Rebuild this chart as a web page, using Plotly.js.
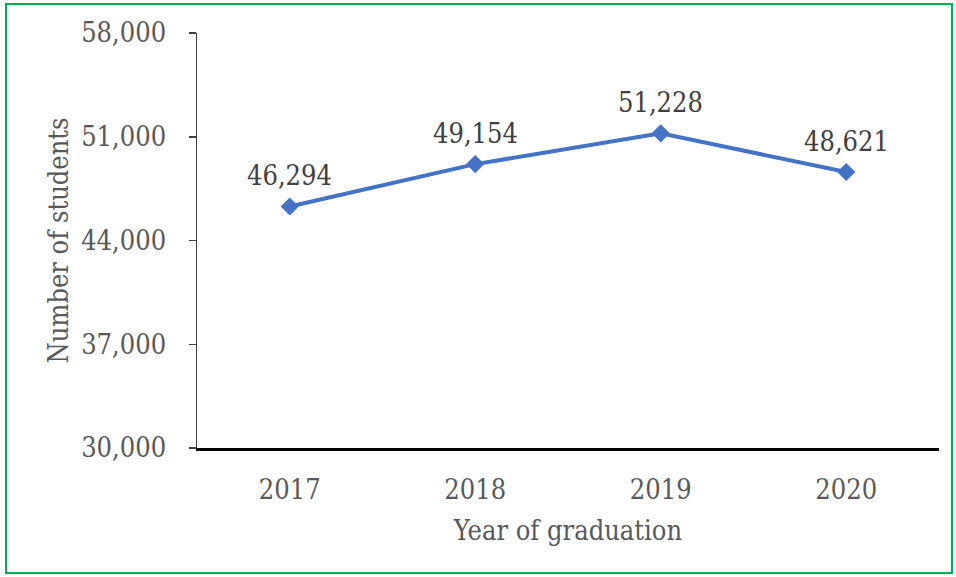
<!DOCTYPE html>
<html>
<head>
<meta charset="utf-8">
<script src="https://cdn.plot.ly/plotly-3.0.1.min.js"></script>
<style>
html,body{margin:0;padding:0;background:#fff;}
#frame{position:absolute;left:5px;top:3px;width:944px;height:567px;border:2px solid #00B050;}
#chart{position:absolute;left:0;top:0;width:956px;height:577px;}
</style>
</head>
<body>
<div id="frame"></div>
<div id="chart"></div>
<script>
const years = ['2017', '2018', '2019', '2020'];
const students = [46294, 49154, 51228, 48621];
const yTicks = [30000, 37000, 44000, 51000, 58000];

const font = 'DejaVu Serif Condensed, Liberation Serif, serif';
const grey = '#595959';

const trace = {
  type: 'scatter',
  mode: 'lines+markers',
  x: years,
  y: students,
  line: {color: '#4472C4', width: 4},
  marker: {symbol: 'diamond', size: 14, color: '#4472C4'},
  cliponaxis: false,
  hoverinfo: 'skip'
};

// data labels: category index i on the category axis
const labels = years.map((yr, i) => ({
  xref: 'x', yref: 'y',
  x: i, y: students[i],
  text: students[i].toLocaleString('en-US'),
  showarrow: false,
  yshift: 31,
  font: {family: font, size: 27, color: '#404040'}
}));

const layout = {
  width: 956, height: 577,
  margin: {l: 197, r: 17, t: 33, b: 129},
  paper_bgcolor: 'rgba(0,0,0,0)',
  plot_bgcolor: 'rgba(0,0,0,0)',
  showlegend: false,
  annotations: labels,
  font: {family: font, size: 27, color: grey},
  xaxis: {
    type: 'category',
    range: [-0.5, 3.5],
    showgrid: false,
    showline: true, linecolor: '#000', linewidth: 2.5,
    ticks: '', ticklen: 0,
    ticklabelstandoff: 16,
    tickfont: {family: font, size: 27, color: grey},
    title: {text: 'Year of graduation', font: {family: font, size: 27, color: grey}, standoff: 17},
    zeroline: false
  },
  yaxis: {
    range: [30000, 58000],
    tickvals: yTicks,
    ticktext: yTicks.map(v => v.toLocaleString('en-US')),
    showgrid: false,
    showline: true, linecolor: '#404040', linewidth: 1.5,
    ticks: 'outside', ticklen: 7, tickcolor: '#404040', tickwidth: 1.5,
    ticklabelstandoff: 17,
    tickfont: {family: font, size: 27, color: grey},
    title: {text: 'Number of students', font: {family: font, size: 27, color: grey}, standoff: 4},
    zeroline: false
  }
};

Plotly.newPlot('chart', [trace], layout, {displayModeBar: false, staticPlot: true});
</script>
</body>
</html>
